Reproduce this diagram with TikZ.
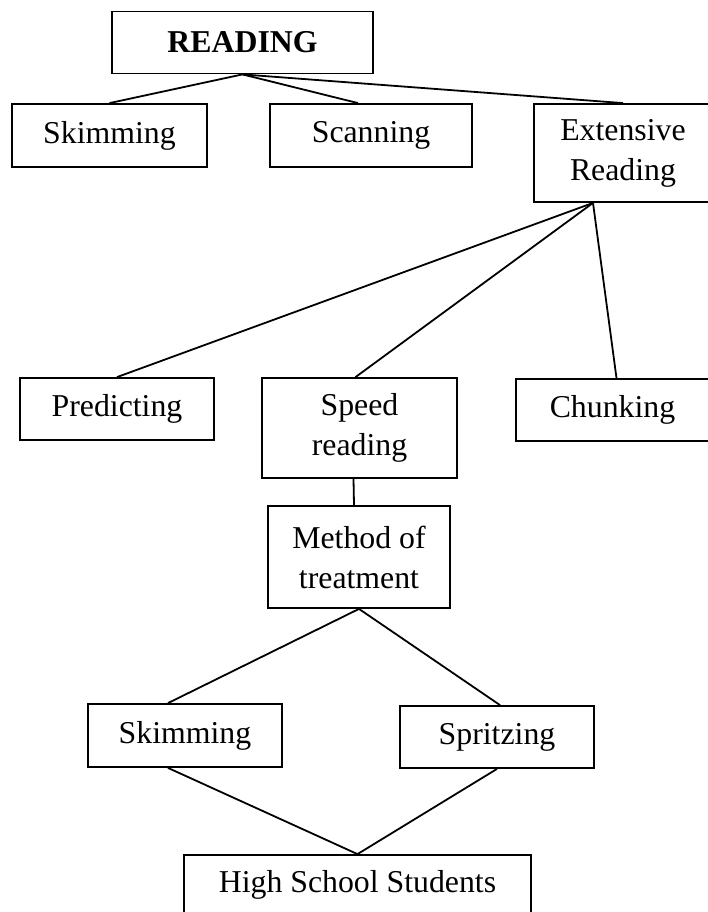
\documentclass[tikz,border=0pt]{standalone}
\usepackage{fontspec}
\setmainfont{Liberation Serif}

\begin{document}
\begin{tikzpicture}[x=1pt, y=-1pt, line width=1.8pt,
      every node/.style={font=\fontsize{31.8}{40}\selectfont},
      box/.style={draw, inner sep=0pt, align=center,
          minimum width=194pt, minimum height=62pt}]
    \useasboundingbox (0,0) rectangle (707,912);
    % top level
    \node[box, minimum width=261pt, font=\fontsize{31.8}{40}\selectfont\bfseries]
          (READ) at (242.5,42.5) {READING};
    \node[box, minimum width=195pt, minimum height=63pt]
          (SKIM) at (109.5,135.5) {Skimming};
    \node[box, minimum width=202pt, minimum height=63pt]
          (SCAN) at (371,135.5) {Scanning};
    \node[box, minimum width=178pt, minimum height=98pt]
          (EXT) at (623,153) {Extensive\\Reading};
    % strategies
    \node[box] (PRED) at (117,409) {Predicting};
    \node[box, minimum width=195pt, minimum height=100pt]
          (SPEED) at (359.5,428) {Speed\\reading};
    \node[box, minimum width=193pt] (CHUNK) at (612.5,410) {Chunking};
    \node[box, minimum width=182pt, minimum height=102pt]
          (METH) at (359,557) {Method of\\treatment};
    % treatment
    \node[box, minimum height=63pt] (SKIM2) at (185,735.5) {Skimming};
    \node[box] (SPRITZ) at (497,737) {Spritzing};
    \node[box, minimum width=347pt, minimum height=60pt]
          (HSS) at (357.5,885) {High School Students};
    \draw (READ.south) -- (SKIM.north);
    \draw (READ.south) -- ([xshift=-13pt]SCAN.north);
    \draw (READ.south) -- (EXT.north);
    \draw ([xshift=-30pt]EXT.south) -- (PRED.north);
    \draw ([xshift=-30pt]EXT.south) -- ([xshift=-4pt]SPEED.north);
    \draw ([xshift=-30pt]EXT.south) -- ([xshift=4pt]CHUNK.north);
    \draw ([xshift=-6pt]SPEED.south) -- ([xshift=-5pt]METH.north);
    \draw (METH.south) -- ([xshift=-17pt]SKIM2.north);
    \draw (METH.south) -- ([xshift=3pt]SPRITZ.north);
    \draw ([xshift=-17pt]SKIM2.south) -- (HSS.north);
    \draw (SPRITZ.south) -- (HSS.north);
\end{tikzpicture}
\end{document}
